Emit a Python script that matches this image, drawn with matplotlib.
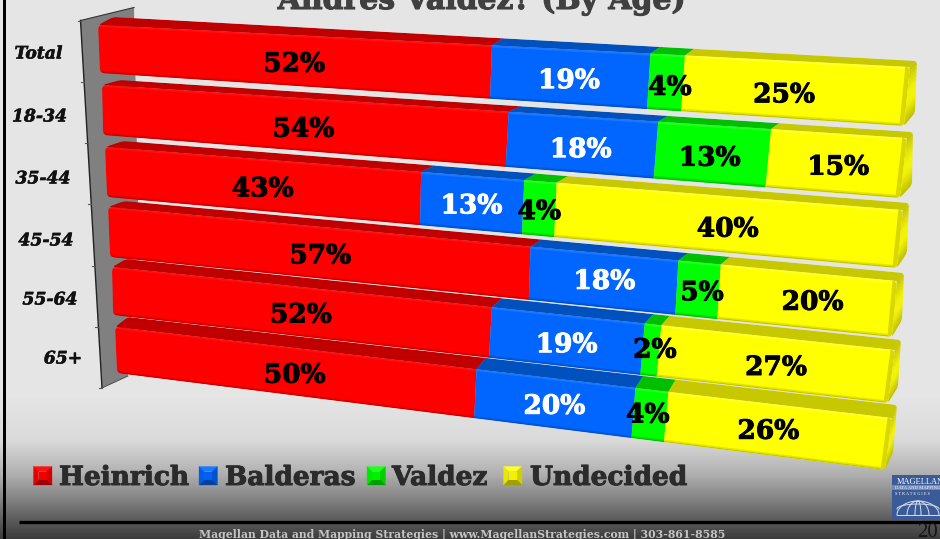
import numpy as np
import matplotlib
matplotlib.use("Agg")
import matplotlib.pyplot as plt
import matplotlib.patheffects as pe
from matplotlib.patches import Polygon, PathPatch, Rectangle
from matplotlib.path import Path

# ---- data -------------------------------------------------------------
categories = ["Total", "18-34", "35-44", "45-54", "55-64", "65+"]
series_names = ["Heinrich", "Balderas", "Valdez", "Undecided"]
heinrich = [52, 54, 43, 57, 52, 50]
balderas = [19, 18, 13, 18, 19, 20]
valdez = [4, 13, 4, 5, 2, 4]
undecided = [25, 15, 40, 20, 27, 26]
title = "Andres Valdez? (By Age)"
footer = "Magellan Data and Mapping Strategies | www.MagellanStrategies.com | 303-861-8585"
page_number = "20"

# ---- style ------------------------------------------------------------
W, H = 940, 539
FACE = ["#FF0000", "#0066FF", "#00FF00", "#FFFF00"]
TOP = ["#C00000", "#0050BE", "#00BE00", "#C8C800"]
LOW = ["#C80000", "#0050C8", "#00C000", "#C4C400"]
LIGHT = ["#FF1010", "#1A78FF", "#20FF20", "#FFFF30"]
TXT = ["black", "white", "black", "black"]

# projected geometry of the 3-D bars (per row, in figure pixels)
F_LT = np.array([(98, 25), (102, 85), (105, 147), (108, 207), (112, 267), (115, 327)], float)
F_LB = np.array([(100, 73), (103, 135), (107, 197), (110, 257), (113, 315), (117, 373)], float)
F_RT = np.array([(910, 67), (907, 138), (903, 210), (897, 281), (895, 350), (892, 418)], float)
F_RB = np.array([(904, 126), (900, 198), (897, 268), (892, 337), (888, 403), (885, 470)], float)
B_LT = np.array([(113, 17), (120, 80), (123, 141), (124, 201), (126, 259), (128, 317)], float)
B_RT = np.array([(917, 61), (913, 132), (909, 203), (904, 273), (901, 340), (897, 405)], float)
B_RB = np.array([(915, 113), (912, 185), (907, 253), (902, 320), (898, 387), (893, 453)], float)
PERSP = -0.0013
# small label shifts (pixels), per row and series, from where the bar centre falls
NUDGE = [[(6, 4), (0, 4), (4, 5), (-9, 5)],
         [(6, 5), (0, 5), (-2, 4), (3, 4)],
         [(4, 4), (0, 3), (0, 3), (5, 5)],
         [(9, 4), (2, 1), (4, 3), (7, 2)],
         [(6, 4), (1, 4), (4, 0), (3, 4)],
         [(5, 4), (1, 3), (-2, 0), (-7, 1)]]


def tpos(u):
    return (u / 100.0) * (1 + 100 * PERSP) / (1 + PERSP * u)


def front(r, u, f):
    t = tpos(u)
    l = F_LT[r] + (F_LB[r] - F_LT[r]) * f
    rr = F_RT[r] + (F_RB[r] - F_RT[r]) * f
    return l + (rr - l) * t


def back_top(r, u):
    return B_LT[r] + (B_RT[r] - B_LT[r]) * tpos(u)


def rounded_path(pts, rad):
    pts = [np.asarray(p, float) for p in pts]
    n = len(pts)
    verts, codes = [], []
    for i, p in enumerate(pts):
        a, b = pts[i - 1], pts[(i + 1) % n]
        pa = p + (a - p) / np.linalg.norm(a - p) * rad
        pb = p + (b - p) / np.linalg.norm(b - p) * rad
        verts += [pa, p, pb]
        codes += [Path.MOVETO if i == 0 else Path.LINETO, Path.CURVE3, Path.CURVE3]
    verts.append(verts[0])
    codes.append(Path.CLOSEPOLY)
    return Path(verts, codes)


def mix(c1, c2, a):
    c1, c2 = np.array(matplotlib.colors.to_rgb(c1)), np.array(matplotlib.colors.to_rgb(c2))
    return tuple(c1 + (c2 - c1) * a)


def heavy(color, width):
    return [pe.withStroke(linewidth=width, foreground=color)]


plt.rcParams["font.family"] = ["DejaVu Serif"]
fig = plt.figure(figsize=(W / 100, H / 100), dpi=100)
ax = fig.add_axes([0, 0, 1, 1])
ax.set_xlim(0, W)
ax.set_ylim(H, 0)
ax.axis("off")

# background
ys = np.arange(H)
grad = np.interp(ys, [0, 395, 440, 473, 500, 517, 539], [229, 229, 217, 176, 128, 96, 58]) / 255
ax.imshow(grad[:, None], extent=(0, W, H, 0), cmap="gray", vmin=0, vmax=1, aspect="auto", zorder=0)
ax.set_xlim(0, W)
ax.set_ylim(H, 0)
ax.add_patch(Rectangle((3.3, 0), 2.9, H, color="black", lw=0, zorder=1))
ax.plot([19, W], [522, 522], color="black", lw=2.4, solid_capstyle="butt", zorder=1)

# wall + ticks
wall_l0, wall_l1 = np.array([80.5, 20.5]), np.array([102, 388])
ax.add_patch(Polygon([wall_l0, (134, 7.5), (138, 200), (128, 376), wall_l1], closed=True,
                     fc="#808080", ec="none", zorder=2))
ax.plot(*zip(wall_l0, (134, 7.5)), color="#333333", lw=0.8, zorder=2)
ax.plot(*zip(wall_l0, wall_l1), color="#222222", lw=1.0, zorder=2)
ax.plot(*zip(wall_l1, (128, 376)), color="#444444", lw=0.6, zorder=2)
for i in range(len(categories) + 1):
    p = wall_l0 + (wall_l1 - wall_l0) * i / len(categories)
    ax.plot([p[0] - 3, p[0]], [p[1], p[1]], color="#555555", lw=0.8, zorder=2)

# category labels
lab_pos = [(38.5, 54), (39.5, 117), (43, 179), (46, 241), (50, 300), (63, 359)]
for c, (x, y) in zip(categories, lab_pos):
    ax.text(x, y, c, fontsize=12.4, fontweight="bold", fontstyle="italic", color="#111111",
            ha="center", va="center", zorder=3, path_effects=heavy("#111111", 0.4))

# bars
all_vals = np.array([heinrich, balderas, valdez, undecided], float).T
z = 5
for r, vals in enumerate(all_vals):
    edges = np.concatenate([[0], np.cumsum(vals)])
    # clip for the top strip + end cap
    back_clip = PathPatch(rounded_path([F_LT[r], B_LT[r], B_RT[r], B_RB[r], F_RB[r]], 4),
                          transform=ax.transData, fc="none", ec="none")
    ax.add_patch(back_clip)
    # top strip
    for s in range(4):
        u0, u1 = edges[s], edges[s + 1]
        p = Polygon([front(r, u0, 0), front(r, u1, 0), back_top(r, u1), back_top(r, u0)],
                    closed=True, fc=TOP[s], ec=TOP[s], lw=0.2, zorder=z)
        ax.add_patch(p)
        p.set_clip_path(back_clip)
    # right cap with vertical shading
    n = 14
    for k in range(n):
        a0, a1 = k / n, (k + 1) / n
        pts = [F_RT[r] + (F_RB[r] - F_RT[r]) * a0, B_RT[r] + (B_RB[r] - B_RT[r]) * a0,
               B_RT[r] + (B_RB[r] - B_RT[r]) * a1, F_RT[r] + (F_RB[r] - F_RT[r]) * a1]
        col = mix("#C8C800", "#F4F400", min(1, a0 / 0.4)) if a0 < 0.6 else mix("#F4F400", "#B8B800", (a0 - 0.6) / 0.4)
        p = Polygon(pts, closed=True, fc=col, ec=col, lw=0.2, zorder=z)
        ax.add_patch(p)
        p.set_clip_path(back_clip)
    # front face, clipped to a rounded silhouette
    clip = PathPatch(rounded_path([F_LT[r], F_RT[r], F_RB[r], F_LB[r]], 5), transform=ax.transData,
                     fc="none", ec="none")
    ax.add_patch(clip)
    for s in range(4):
        u0, u1 = edges[s], edges[s + 1]
        layers = [(0.0, 1.0, FACE[s]), (0.0, 0.035, LIGHT[s]),
                  (0.975, 1.0, LOW[s]), (0.955, 0.975, mix(FACE[s], LOW[s], 0.5))]
        for f0, f1, col in layers:
            p = Polygon([front(r, u0, f0), front(r, u1, f0), front(r, u1, f1), front(r, u0, f1)],
                        closed=True, fc=col, ec=col, lw=0.15, zorder=z + 0.1)
            ax.add_patch(p)
            p.set_clip_path(clip)
    p = Polygon([front(r, 99.5, 0), front(r, 100, 0), front(r, 100, 1), front(r, 99.5, 1)],
                closed=True, fc="#D8D800", ec="none", zorder=z + 0.15)
    ax.add_patch(p)
    p.set_clip_path(clip)
    z += 1

# value labels (on top of every bar)
for r, vals in enumerate(all_vals):
    edges = np.concatenate([[0], np.cumsum(vals)])
    for s, v in enumerate(vals):
        x, y = front(r, (edges[s] + edges[s + 1]) / 2, 0.5)
        dx, dy = NUDGE[r][s]
        ax.text(x + dx, y + dy, f"{int(v)}%", fontsize=19, fontweight="bold", color=TXT[s],
                ha="center", va="center", zorder=30, path_effects=heavy(TXT[s], 0.7))

# legend
leg_swatch_x = [33.5, 199, 367, 503.5]
leg_text_x = [59, 225, 392, 530]
for name, xs, xt, fc, dark, light in zip(series_names, leg_swatch_x, leg_text_x, FACE,
                                         ["#A00000", "#0040A0", "#00A000", "#A0A000"], LIGHT):
    s, y0 = 18.5, 466.5
    i0, i1 = 5, 13
    corners = [(xs, y0), (xs + s, y0), (xs + s, y0 + s), (xs, y0 + s)]
    inner = [(xs + i0, y0 + i0), (xs + i1, y0 + i0), (xs + i1, y0 + i1), (xs + i0, y0 + i1)]
    shades = [light, mix(fc, dark, 0.5), dark, mix(fc, dark, 0.25)]
    for k in range(4):
        j = (k + 1) % 4
        ax.add_patch(Polygon([corners[k], corners[j], inner[j], inner[k]], closed=True,
                             fc=shades[k], ec=shades[k], lw=0.2, zorder=6))
    ax.add_patch(Polygon(inner, closed=True, fc=mix(fc, dark, 0.15), ec="none", zorder=6))
    ax.text(xt, 485, name, fontsize=19, fontweight="bold", color="#2B2B2B", ha="left",
            va="baseline", zorder=6, path_effects=heavy("#2B2B2B", 0.7))

# title and footer
ax.text(482, 9, title, fontsize=21.5, fontweight="bold", color="#404040", ha="center", va="baseline",
        zorder=6, clip_on=False, path_effects=heavy("#404040", 0.8))
ax.text(462, 537.5, footer, fontsize=7.85, fontweight="bold", color="#C4C4C4", ha="center",
        va="baseline", zorder=6)
ax.text(928, 537, page_number, fontsize=15, color="#151515", ha="center", va="baseline", zorder=6,
        family="Liberation Serif")

# logo
ax.add_patch(Rectangle((892, 475), 48, 45, fc="#3A5A98", ec="none", zorder=6))
ax.add_patch(Rectangle((892, 485), 48, 5, fc="#6F88B8", ec="none", zorder=6))
ax.text(897, 483.5, "MAGELLAN", fontsize=6, color="white", ha="left", va="baseline", zorder=7,
        family="Liberation Serif", clip_on=True)
ax.text(895, 489, "DATA AND MAPPING", fontsize=3.4, color="white", ha="left", va="baseline", zorder=7,
        family="Liberation Serif", clip_on=True)
ax.text(895, 495, "S T R A T E G I E S", fontsize=3.2, color="white", ha="left", va="baseline", zorder=7,
        family="Liberation Serif", clip_on=True)
theta = np.linspace(0, np.pi, 40)
for a in [21, 11, 3]:
    ax.plot(918 + a * np.cos(theta), 515 - 14 * np.sin(theta), color="#D8E0F0", lw=0.7, zorder=7, clip_on=True)
ax.plot(918 + 21 * np.cos(theta), 509 - 5 * np.sin(theta), color="#D8E0F0", lw=0.7, zorder=7)
ax.plot([897, 939], [515, 515], color="#D8E0F0", lw=0.7, zorder=7)

fig.savefig("out.png", dpi=100)
